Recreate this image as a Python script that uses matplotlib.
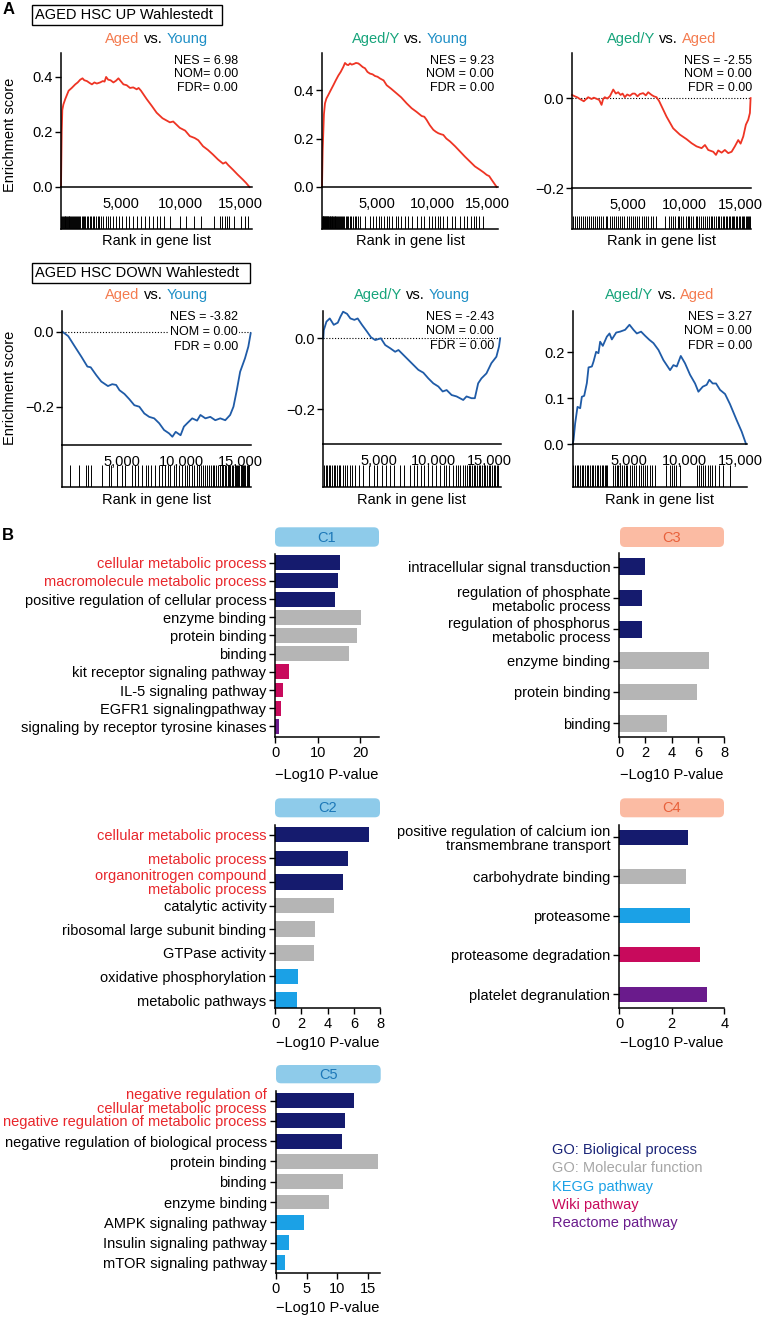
import matplotlib
matplotlib.use("Agg")
import matplotlib.pyplot as plt
from matplotlib.patches import FancyBboxPatch, Rectangle
from matplotlib.transforms import IdentityTransform
from matplotlib.ticker import FuncFormatter, FixedLocator

W, H = 764, 1318
plt.rcParams['font.family'] = ['Liberation Sans', 'DejaVu Sans']

# ------------------------------------------------------------------ data
# GSEA running enrichment scores (rank, ES)
up1_rank = [0, 60, 110, 200, 360, 500, 640, 900, 1195, 1400, 1610, 1800, 1950, 2170, 2400, 2590, 2800, 3000, 3280, 3500,
            3650, 3780, 3950, 4150, 4390, 4600, 4810, 5000, 5230, 5500, 5780, 6050, 6340, 6500, 6700, 7170, 7600, 8010, 8500, 9120,
            9400, 9950, 10400, 10790, 11200, 11500, 11900, 12300, 12730, 13150, 13570, 13800, 14000, 14400, 14800, 15230, 15500, 15790]
up1_es = [0, 0.2, 0.28, 0.30, 0.32, 0.335, 0.35, 0.36, 0.373, 0.38, 0.39, 0.395, 0.388, 0.385, 0.378, 0.373, 0.38, 0.376, 0.38, 0.385,
          0.383, 0.40, 0.39, 0.388, 0.38, 0.386, 0.395, 0.385, 0.373, 0.37, 0.36, 0.362, 0.355, 0.36, 0.35, 0.32, 0.295, 0.27, 0.25, 0.235,
          0.238, 0.215, 0.205, 0.185, 0.178, 0.17, 0.148, 0.135, 0.118, 0.1, 0.085, 0.09, 0.08, 0.063, 0.045, 0.027, 0.015, 0.0]

up2_rank = [0, 60, 175, 270, 400, 575, 800, 1030, 1250, 1485, 1700, 1940, 2090, 2250, 2390, 2550, 2700, 2900, 3090, 3300,
            3450, 3700, 3910, 4130, 4360, 4600, 4820, 5050, 5270, 5600, 5880, 6300, 6790, 7200, 7700, 8150, 8600, 9060, 9300, 9510,
            9800, 10120, 10350, 10570, 10800, 11030, 11300, 11640, 12100, 12540, 13000, 13450, 13900, 14360, 14700, 14970, 15200, 15420, 15650, 15880]
up2_es = [0, 0.15, 0.30, 0.345, 0.365, 0.38, 0.40, 0.42, 0.44, 0.46, 0.475, 0.496, 0.512, 0.505, 0.503, 0.51, 0.505, 0.508, 0.512, 0.51,
          0.505, 0.495, 0.49, 0.475, 0.468, 0.465, 0.458, 0.455, 0.448, 0.44, 0.42, 0.405, 0.386, 0.37, 0.345, 0.325, 0.31, 0.293, 0.29, 0.277,
          0.255, 0.236, 0.228, 0.222, 0.218, 0.215, 0.20, 0.188, 0.168, 0.147, 0.125, 0.105, 0.085, 0.071, 0.06, 0.05, 0.045, 0.03, 0.015, 0.0]

up3_rank = [0, 250, 490, 700, 1050, 1440, 1740, 1940, 2180, 2420, 2630, 2770, 2920, 3130, 3370, 3670, 3900, 4110, 4320, 4500,
            4700, 4910, 5150, 5390, 5590, 5830, 6040, 6330, 6570, 6780, 7080, 7280, 7520, 7760, 7970, 8410, 9000, 9300, 9600, 10190,
            10640, 11080, 11530, 11830, 12120, 12570, 12810, 13010, 13310, 13600, 13900, 14200, 14490, 14790, 15000, 15240, 15470, 15680, 15830, 15890]
up3_es = [0.007, 0.004, 0.0015, -0.002, -0.007, 0.002, -0.002, 0.001, -0.0015, -0.004, -0.015, -0.002, 0.002, -0.001, 0.004, 0.019, 0.01, 0.013, 0.007, 0.01,
          0.002, 0.008, 0.005, 0.01, 0.01, 0.004, 0.009, 0.011, 0.006, 0.013, 0.007, 0.004, 0.002, -0.007, -0.018, -0.041, -0.067, -0.074, -0.081, -0.091,
          -0.1, -0.107, -0.111, -0.104, -0.115, -0.119, -0.126, -0.116, -0.121, -0.115, -0.122, -0.119, -0.107, -0.093, -0.101, -0.085, -0.059, -0.048, -0.033, 0.0]

dn1_rank = [0, 500, 1060, 1610, 2110, 2390, 2860, 3280, 3840, 4200, 4530, 4810, 5230, 5640, 6060, 6480, 6900, 7310, 7730, 8150,
            8560, 8980, 9260, 9540, 9950, 10230, 10510, 10930, 11340, 11620, 12040, 12450, 12870, 13290, 13710, 14120, 14400, 14680, 14960, 15370,
            15650, 15850]
dn1_es = [0, -0.012, -0.04, -0.067, -0.093, -0.095, -0.116, -0.133, -0.145, -0.14, -0.142, -0.156, -0.166, -0.18, -0.196, -0.2, -0.218, -0.227, -0.231, -0.244,
          -0.262, -0.271, -0.28, -0.267, -0.276, -0.253, -0.244, -0.231, -0.237, -0.222, -0.231, -0.227, -0.236, -0.231, -0.236, -0.222, -0.2, -0.156, -0.107, -0.071,
          -0.04, -0.004]

dn2_rank = [0, 45, 285, 585, 945, 1310, 1550, 1790, 2150, 2450, 2810, 3110, 3500, 3950, 4310, 4700, 5210, 5600, 6050, 6500,
            6800, 7250, 7700, 8150, 8600, 9050, 9500, 9950, 10410, 10800, 11160, 11610, 12060, 12660, 12960, 13410, 13710, 14010, 14310, 14760,
            15210, 15660, 15900, 16000]
dn2_es = [0, 0.023, 0.047, 0.056, 0.038, 0.044, 0.061, 0.075, 0.069, 0.056, 0.052, 0.056, 0.038, 0.019, 0.003, -0.005, 0.0, -0.019, -0.028, -0.038,
          -0.033, -0.047, -0.061, -0.075, -0.089, -0.097, -0.113, -0.127, -0.136, -0.15, -0.146, -0.16, -0.164, -0.174, -0.164, -0.169, -0.169, -0.127, -0.113, -0.099,
          -0.07, -0.052, -0.023, 0.0]

dn3_rank = [0, 75, 220, 430, 670, 820, 1030, 1270, 1420, 1720, 1870, 2100, 2310, 2460, 2700, 3060, 3300, 3510, 3900, 4250,
            4700, 5090, 5450, 5750, 6130, 6490, 6880, 7240, 7690, 8130, 8730, 9030, 9330, 9690, 10070, 10520, 10970, 11270, 11660, 12010,
            12250, 12550, 12850, 13210, 13660, 14100, 14700, 15150, 15540]
dn3_es = [0, 0.009, 0.045, 0.081, 0.078, 0.103, 0.105, 0.133, 0.167, 0.169, 0.18, 0.201, 0.198, 0.223, 0.214, 0.234, 0.241, 0.228, 0.243, 0.245,
          0.249, 0.26, 0.249, 0.241, 0.245, 0.236, 0.227, 0.22, 0.205, 0.183, 0.161, 0.172, 0.169, 0.192, 0.176, 0.151, 0.132, 0.114, 0.125, 0.129,
          0.14, 0.132, 0.132, 0.118, 0.109, 0.087, 0.052, 0.027, 0.0]

# gene-set hit positions (barcode)
up1_hits = [40, 110, 170, 240, 300, 370, 430, 500, 560, 640, 700, 780, 850, 930, 1010, 1090, 1180, 1260, 1350, 1440, 1530, 1630, 1720, 1830,
            1930, 2040, 2150, 2270, 2390, 2510, 2640, 2780, 2920, 3070, 3220, 3380, 3550, 3730, 3920, 4100, 4350, 4600, 4900, 5150, 5450,
            5700, 6050, 6350, 6700, 7000, 7350, 7700, 8000, 8300, 8600, 9100, 9950, 10500, 11100, 11700, 12800, 13300, 13500, 13700, 13900,
            14100, 14500, 15100, 15400, 15650]
up2_hits = [15, 50, 90, 130, 170, 215, 260, 300, 345, 390, 440, 490, 540, 590, 640, 700, 760, 820, 880, 940, 1000, 1070, 1140, 1210, 1290,
            1370, 1450, 1540, 1630, 1720, 1820, 1920, 2030, 2140, 2260, 2380, 2510, 2650, 2800, 2960, 3130, 3300, 3480, 3900, 4400, 4650,
            4900, 5150, 5400, 5650, 5900, 6100, 6400, 6700, 6900, 7200, 7500, 7800, 8200, 8600, 9000, 9300, 9700, 10000, 10300, 10500,
            10700, 11000, 11400, 11800, 12100, 12500, 12900, 13200, 13500, 13800, 14000, 14300, 14600]
up3_hits = [60, 250, 420, 600, 800, 950, 1150, 1300, 1500, 1700, 1850, 2050, 2250, 2400, 2600, 2800, 3000, 3150, 3350, 3550, 3700, 3900,
            4100, 4300, 4450, 4650, 4850, 5050, 5250, 5400, 5600, 5800, 6000, 6200, 6400, 6600, 6800, 7000, 7200, 7500, 8300, 8600, 8800,
            9000, 9200, 9400, 9550, 9700, 9900, 10100, 10300, 10450, 10600, 10800, 11000, 11150, 11300, 11500, 11700, 11850, 12000, 12200,
            12350, 12500, 12650, 12800, 12950, 13100, 13250, 13400, 13550, 13700, 13800, 13950, 14100, 14200, 14350, 14450, 14600, 14700,
            14850, 14950, 15100, 15200, 15300, 15450, 15550, 15650, 15750, 15850]
dn1_hits = [640, 1390, 2000, 2200, 2400, 3300, 3900, 4100, 4600, 5000, 5300, 5850, 6100, 6400, 6700, 7000, 7200, 7500, 7800, 8100, 8400,
            8600, 8900, 9100, 9400, 9600, 9800, 10100, 10300, 10500, 10700, 10900, 11100, 11300, 11500, 11700, 11850, 12000, 12200, 12350,
            12500, 12650, 12800, 12950, 13100, 13250, 13400, 13500, 13650, 13800, 13900, 14000, 14150, 14300, 14400, 14500, 14600, 14700,
            14800, 14900, 15000, 15100, 15200, 15300, 15400, 15500, 15600, 15700]
dn2_hits = [60, 200, 350, 500, 650, 800, 950, 1100, 1250, 1400, 1550, 1750, 1950, 2150, 2400, 2600, 2900, 3200, 3600, 4100, 4600, 4900,
            5300, 5700, 6000, 6400, 6900, 7300, 7800, 8200, 8500, 8800, 9100, 9500, 9800, 10200, 10600, 10900, 11100, 11400, 11700, 12000,
            12200, 12400, 12600, 12800, 13000, 13150, 13300, 13450, 13600, 13750, 13900, 14050, 14200, 14350, 14500, 14650, 14800, 14950,
            15100, 15250, 15400, 15550, 15700, 15850]
dn3_hits = [50, 200, 350, 500, 650, 800, 950, 1100, 1250, 1400, 1550, 1700, 1850, 2000, 2150, 2300, 2450, 2600, 2750, 2900, 3000, 3100,
            3600, 3800, 3950, 4100, 4250, 4400, 4600, 4750, 4900, 5100, 5300, 5500, 5700, 5900, 6100, 6300, 6500, 6700, 6900, 7100, 7400,
            8400, 8700, 8900, 9100, 9300, 9600, 11100, 11300, 11500, 11700, 11900, 12100, 12300, 12500, 12800, 13100, 13500, 14100]

nes_values = ["6.98", "9.23", "-2.55", "-3.82", "-2.43", "3.27"]

# GO / pathway enrichment bars
c1_terms = ["cellular metabolic process", "macromolecule metabolic process", "positive regulation of cellular process",
            "enzyme binding", "protein binding", "binding", "kit receptor signaling pathway", "IL-5 signaling pathway",
            "EGFR1 signalingpathway", "signaling by receptor tyrosine kinases"]
c1_values = [15.4, 14.8, 14.1, 20.2, 19.4, 17.5, 3.2, 1.9, 1.3, 0.8]
c1_types = ["BP", "BP", "BP", "MF", "MF", "MF", "WIKI", "WIKI", "WIKI", "REACT"]
c1_red = [True, True, False, False, False, False, False, False, False, False]

c3_terms = ["intracellular signal transduction", "regulation of phosphate\nmetabolic process",
            "regulation of phosphorus\nmetabolic process", "enzyme binding", "protein binding", "binding"]
c3_values = [1.96, 1.76, 1.76, 6.85, 5.93, 3.66]
c3_types = ["BP", "BP", "BP", "MF", "MF", "MF"]
c3_red = [False] * 6

c2_terms = ["cellular metabolic process", "metabolic process", "organonitrogen compound\nmetabolic process",
            "catalytic activity", "ribosomal large subunit binding", "GTPase activity", "oxidative phosphorylation",
            "metabolic pathways"]
c2_values = [7.15, 5.57, 5.19, 4.48, 3.0, 2.98, 1.71, 1.66]
c2_types = ["BP", "BP", "BP", "MF", "MF", "MF", "KEGG", "KEGG"]
c2_red = [True, True, True, False, False, False, False, False]

c4_terms = ["positive regulation of calcium ion\ntransmembrane transport", "carbohydrate binding", "proteasome",
            "proteasome degradation", "platelet degranulation"]
c4_values = [2.6, 2.55, 2.69, 3.08, 3.33]
c4_types = ["BP", "MF", "KEGG", "WIKI", "REACT"]
c4_red = [False] * 5

c5_terms = ["negative regulation of\ncellular metabolic process", "negative regulation of metabolic process",
            "negative regulation of biological process", "protein binding", "binding", "enzyme binding",
            "AMPK signaling pathway", "Insulin signaling pathway", "mTOR signaling pathway"]
c5_values = [12.7, 11.3, 10.8, 16.7, 11.0, 8.67, 4.55, 2.17, 1.46]
c5_types = ["BP", "BP", "BP", "MF", "MF", "MF", "KEGG", "KEGG", "KEGG"]
c5_red = [True, True, False, False, False, False, False, False, False]

legend_keys = ["BP", "MF", "KEGG", "WIKI", "REACT"]
legend_labels = ["GO: Bioligical process", "GO: Molecular function", "KEGG pathway", "Wiki pathway", "Reactome pathway"]

# ------------------------------------------------------------------ style
TYPE_COL = {"BP": "#151b6e", "MF": "#b5b5b5", "KEGG": "#1ba1e6", "WIKI": "#c80a5c", "REACT": "#6a1b8c"}
LEG_COL = {"BP": "#1a2478", "MF": "#a6a6a6", "KEGG": "#1ba1e6", "WIKI": "#c80a5c", "REACT": "#6a1b8c"}
RED = "#e8262b"
AGED_C = "#f47b4f"
YOUNG_C = "#1e8fc6"
AGEDY_C = "#17a47b"
UP_LINE = "#ee3424"
DN_LINE = "#1f5ba7"
FS = 10.5

fig = plt.figure(figsize=(W / 100, H / 100), dpi=100)
renderer = fig.canvas.get_renderer()


def fx(x):
    return x / W


def fy(y):
    return 1 - y / H


def px_axes(l, t, r, b):
    return fig.add_axes([l / W, 1 - b / H, (r - l) / W, (b - t) / H])


def text_w(s, size):
    t = fig.text(0, 0, s, fontsize=size)
    w = t.get_window_extent(renderer).width
    t.remove()
    return w


def multicolor(cx, cy, parts, size):
    bar = text_w("|", size)
    full = "".join(p for p, _ in parts)
    total = text_w(full + "|", size) - bar
    x0 = cx - total / 2
    prefix = ""
    for s, c in parts:
        off = (text_w(prefix + "|", size) - bar) if prefix else 0
        if c is not None:
            fig.text(fx(x0 + off), fy(cy), s, color=c, fontsize=size, ha="left", va="center")
        prefix += s


def style_spines(ax):
    for s in ["top", "right"]:
        ax.spines[s].set_visible(False)
    for s in ["left", "bottom"]:
        ax.spines[s].set_linewidth(1.1)


minus_fmt = FuncFormatter(lambda v, p: f"{v:.1f}".replace("-", "\u2212") if abs(v) > 1e-9 else "0.0")
rank_fmt = FuncFormatter(lambda v, p: f"{int(v):,}")


def gsea(l, r, t, b, bar_top, bar_bot, ranks, es, hits, xmax, ylim, yticks, color, dotted,
         stats, stat_x, stat_ys, title_parts, title_y, label_y):
    ax = px_axes(l, t, r, b)
    ax.plot(ranks, es, color=color, lw=1.3, clip_on=False)
    if dotted:
        ax.axhline(0, color="black", lw=0.8, ls=(0, (1, 1.6)), zorder=1)
    ax.set_xlim(0, xmax)
    ax.set_ylim(*ylim)
    ax.yaxis.set_major_locator(FixedLocator(yticks))
    ax.yaxis.set_major_formatter(minus_fmt)
    ax.xaxis.set_major_locator(FixedLocator([5000, 10000, 15000]))
    ax.xaxis.set_major_formatter(rank_fmt)
    ax.tick_params(axis="y", direction="out", length=4, width=1, labelsize=FS, pad=2)
    ax.tick_params(axis="x", length=0, labelsize=FS, pad=7)
    style_spines(ax)
    ax.patch.set_visible(False)
    # barcode
    bx = px_axes(l, b, r, bar_bot)
    frac = (bar_bot - bar_top) / (bar_bot - b)
    bx.vlines(hits, 0, frac, color="black", lw=0.7)
    bx.set_xlim(0, xmax)
    bx.set_ylim(0, 1)
    bx.set_xticks([])
    bx.set_yticks([])
    style_spines(bx)
    bx.patch.set_visible(False)
    # stats text
    for s, y in zip(stats, stat_ys):
        fig.text(fx(stat_x), fy(y), s, ha="right", va="center", fontsize=9, zorder=5,
                 bbox=dict(fc="white", ec="none", pad=1.0))
    multicolor((l + r) / 2, title_y, title_parts, FS)
    fig.text(fx((l + r) / 2), fy(label_y), "Rank in gene list", ha="center", va="center", fontsize=FS)
    return ax


T_AY = [("Aged", AGED_C), (" ", None), ("vs.", "black"), (" ", None), ("Young", YOUNG_C)]
T_YY = [("Aged/Y", AGEDY_C), (" ", None), ("vs.", "black"), (" ", None), ("Young", YOUNG_C)]
T_YA = [("Aged/Y", AGEDY_C), (" ", None), ("vs.", "black"), (" ", None), ("Aged", AGED_C)]

# Row 1: AGED HSC UP
gsea(61, 252, 53, 187, 216, 229, up1_rank, up1_es, up1_hits, 16000, (0, 0.487), [0, 0.2, 0.4], UP_LINE, False,
     ["NES = " + nes_values[0], "NOM= 0.00", "FDR= 0.00"], 238, [61, 74, 88], T_AY, 39, 241)
gsea(322, 498, 53, 187, 216, 229, up2_rank, up2_es, up2_hits, 16000, (0, 0.553), [0, 0.2, 0.4], UP_LINE, False,
     ["NES = " + nes_values[1], "NOM = 0.00", "FDR = 0.00"], 494, [61, 74, 88], T_YY, 39, 241)
gsea(572, 750.7, 53, 188.3, 216, 229, up3_rank, up3_es, up3_hits, 15900, (-0.2, 0.1), [-0.2, 0.0], UP_LINE, True,
     ["NES = " + nes_values[2], "NOM = 0.00", "FDR = 0.00"], 752, [61, 74, 88], T_YA, 39, 241)

# Row 2: AGED HSC DOWN
gsea(62.3, 250.7, 311, 445, 465, 487, dn1_rank, dn1_es, dn1_hits, 15850, (-0.302, 0.055), [-0.2, 0.0], DN_LINE, True,
     ["NES = " + nes_values[3], "NOM = 0.00", "FDR = 0.00"], 238, [317, 332, 347], T_AY, 295, 500)
gsea(323.3, 500.7, 311, 444.3, 465, 487, dn2_rank, dn2_es, dn2_hits, 16050, (-0.299, 0.077), [-0.2, 0.0], DN_LINE, True,
     ["NES = " + nes_values[4], "NOM = 0.00", "FDR = 0.00"], 494, [317, 331, 346], T_YY, 295, 500)
gsea(572.7, 746.7, 311, 444, 465, 487, dn3_rank, dn3_es, dn3_hits, 15600, (0, 0.29), [0, 0.1, 0.2], DN_LINE, False,
     ["NES = " + nes_values[5], "NOM = 0.00", "FDR = 0.00"], 752, [317, 331, 346], T_YA, 295, 500)

# y labels
fig.text(fx(10), fy(135), "Enrichment score", rotation=90, ha="center", va="center", fontsize=FS)
fig.text(fx(10), fy(388), "Enrichment score", rotation=90, ha="center", va="center", fontsize=FS)

# gene-set boxes
for (l, t, r, b, s) in [(31.7, 5, 221.7, 25, "AGED HSC UP Wahlestedt"), (31.7, 263.3, 250, 283.3, "AGED HSC DOWN Wahlestedt")]:
    fig.add_artist(Rectangle((l, H - b), r - l, b - t, fill=False, ec="black", lw=1.0, transform=IdentityTransform()))
    fig.text(fx(l + 3.5), fy((t + b) / 2), s, ha="left", va="center", fontsize=FS)

fig.text(fx(3), fy(10), "A", fontsize=12, fontweight="bold", ha="left", va="center")
fig.text(fx(2), fy(535), "B", fontsize=12, fontweight="bold", ha="left", va="center")


# ------------------------------------------------------------------ bar panels
def barpanel(l, t, r, b, terms, values, types, reds, xmax, xticks, pad_top, pad_bot, height,
             hdr, hdr_box, hdr_fc, hdr_tc, xlabel_y):
    ax = px_axes(l, t, r, b)
    n = len(terms)
    ypos = list(range(n))
    ax.barh(ypos, values, height=height, color=[TYPE_COL[k] for k in types])
    ax.set_xlim(0, xmax)
    ax.set_ylim(n - 1 + pad_bot, -pad_top)
    ax.set_yticks(ypos)
    ax.set_yticklabels(terms, fontsize=FS, linespacing=1.0)
    for tl, red in zip(ax.get_yticklabels(), reds):
        tl.set_color(RED if red else "black")
    ax.set_xticks(xticks)
    ax.tick_params(axis="both", direction="out", length=4, width=1, labelsize=FS, pad=2.5)
    style_spines(ax)
    ax.patch.set_visible(False)
    hl, ht, hr, hb = hdr_box
    fig.add_artist(FancyBboxPatch((hl, H - hb), hr - hl, hb - ht, boxstyle="round,pad=0,rounding_size=5",
                                  fc=hdr_fc, ec="none", transform=IdentityTransform()))
    fig.text(fx((hl + hr) / 2), fy((ht + hb) / 2 + 0.5), hdr, color=hdr_tc, fontsize=FS, ha="center", va="center")
    fig.text(fx((l + r) / 2), fy(xlabel_y), "\u2212Log10 P-value", ha="center", va="center", fontsize=FS)


BLUE_HDR, BLUE_TXT = "#8ecbea", "#1d78b8"
SALMON_HDR, SALMON_TXT = "#fbbba3", "#e8613b"

barpanel(275.3, 554, 379, 737.3, c1_terms, c1_values, c1_types, c1_red, 24.5, [0, 10, 20], 0.48, 0.6, 0.82,
         "C1", (275, 527.3, 379, 546.7), BLUE_HDR, BLUE_TXT, 775)
barpanel(619.3, 553.3, 724, 737.3, c3_terms, c3_values, c3_types, c3_red, 8, [0, 2, 4, 6, 8], 0.43, 0.45, 0.53,
         "C3", (620, 527, 724, 547), SALMON_HDR, SALMON_TXT, 775)
barpanel(275.3, 825, 380, 1008.3, c2_terms, c2_values, c2_types, c2_red, 8, [0, 2, 4, 6, 8], 0.41, 0.35, 0.66,
         "C2", (275, 798.3, 380, 817.3), BLUE_HDR, BLUE_TXT, 1043)
barpanel(619.3, 825, 724.3, 1008.3, c4_terms, c4_values, c4_types, c4_red, 4, [0, 2, 4], 0.31, 0.36, 0.38,
         "C4", (620, 798.3, 724, 817.3), SALMON_HDR, SALMON_TXT, 1043)
barpanel(276, 1091, 380, 1273.3, c5_terms, c5_values, c5_types, c5_red, 17, [0, 5, 10, 15], 0.48, 0.52, 0.74,
         "C5", (276, 1065, 380.7, 1083.3), BLUE_HDR, BLUE_TXT, 1308)

# legend
for i, (k, s) in enumerate(zip(legend_keys, legend_labels)):
    fig.text(fx(552), fy(1150 + i * 18.3), s, color=LEG_COL[k], fontsize=FS, ha="left", va="center")

fig.savefig("out.png", dpi=100)
